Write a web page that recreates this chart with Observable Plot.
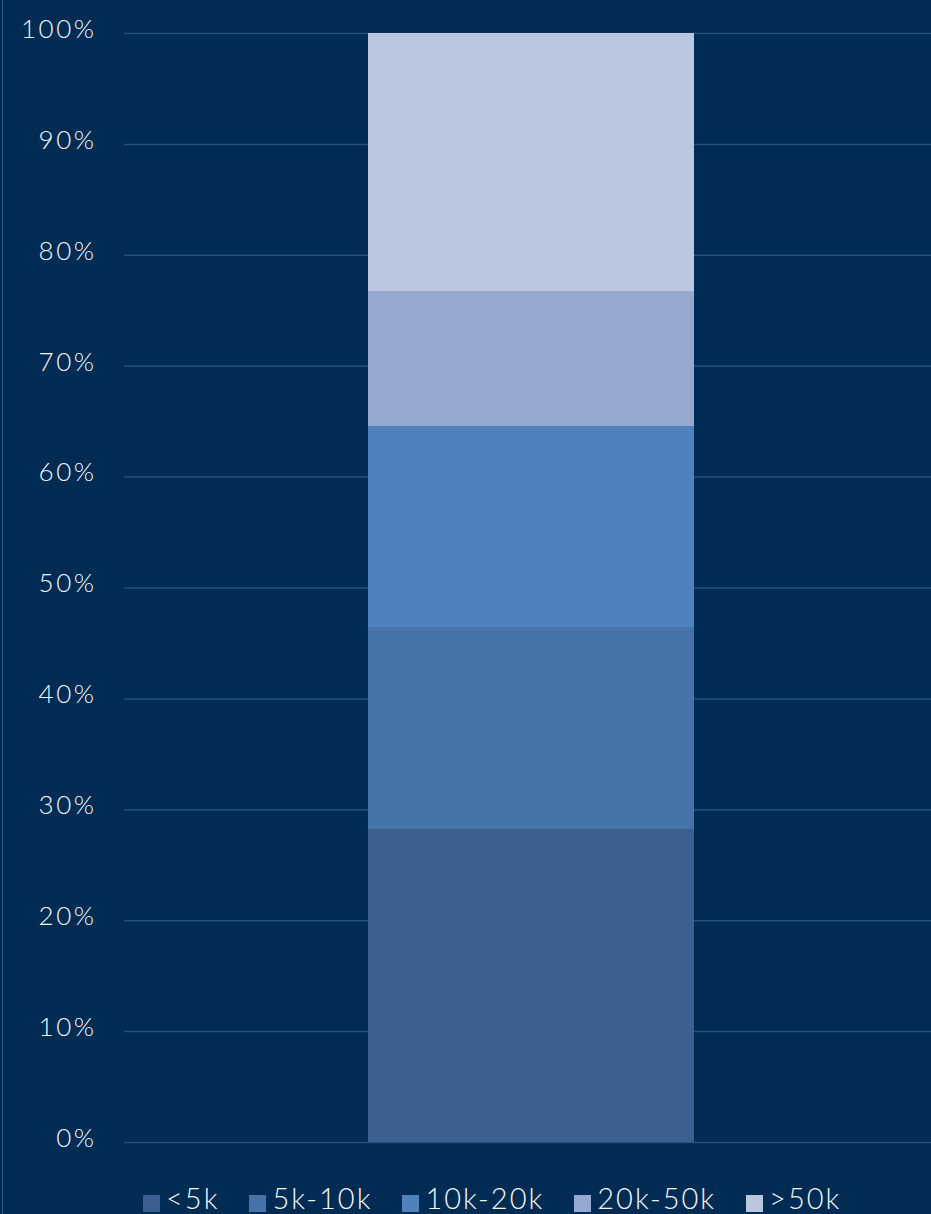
<!DOCTYPE html>
<html>
<head>
<meta charset="utf-8">
<script src="https://cdn.jsdelivr.net/npm/d3@7"></script>
<script src="https://cdn.jsdelivr.net/npm/@observablehq/plot@0.6"></script>
<style>
  html, body { margin: 0; padding: 0; background: #002b52; }
  body { width: 931px; height: 1214px; position: relative; overflow: hidden; font-family: Lato, "Open Sans", sans-serif; }
  #edge { position: absolute; left: 2px; top: 0; width: 1px; height: 1214px; background: #2d5585; }
  #chart { position: absolute; left: 0; top: 0; }
  #chart svg text { letter-spacing: 2.5px; font-weight: 300; }
  #legend { position: absolute; left: 143px; top: 1180px; display: flex; align-items: center; gap: 30px; color: #f4f6fa; font-size: 29px; font-weight: 300; letter-spacing: 2px; }
  .item { display: flex; align-items: center; gap: 6px; }
  .sw { width: 17px; height: 17px; margin-top: 12px; }
</style>
</head>
<body>
<div id="edge"></div>
<div id="chart"></div>
<div id="legend"></div>
<script>
const categories = ["<5k", "5k-10k", "10k-20k", "20k-50k", ">50k"];
const shares = [28.2, 18.2, 18.2, 12.1, 23.3];
const colors = ["#3b5f8f", "#4673a8", "#4f81bd", "#95a9d0", "#bbc7e0"];
const yTicks = [0, 10, 20, 30, 40, 50, 60, 70, 80, 90, 100];
const barLabel = ["All"];

const data = categories.map((c, i) => ({group: barLabel[0], band: c, value: shares[i]}));

const chart = Plot.plot({
  width: 931,
  height: 1160,
  marginLeft: 124,
  marginRight: 0,
  marginTop: 33,
  marginBottom: 18,
  style: {background: "transparent", color: "#f4f6fa", fontFamily: "Lato, 'Open Sans', sans-serif", fontSize: "26px"},
  x: {domain: barLabel, axis: null, paddingInner: 0, paddingOuter: 0.734, align: 0.508},
  y: {domain: [0, 100], ticks: yTicks, tickFormat: d => d + "%", label: null},
  color: {domain: categories, range: colors},
  marks: [
    Plot.gridY(yTicks, {stroke: "#264f7b", strokeOpacity: 1, strokeWidth: 1.5}),
    Plot.axisY(yTicks, {tickSize: 0, tickPadding: 28, tickFormat: d => d + "%", fontSize: 26, fill: "#f4f6fa", dy: -4, label: null}),
    Plot.barY(data, Plot.stackY({x: "group", y: "value", fill: "band", order: categories, shapeRendering: "crispEdges"}))
  ]
});
document.getElementById("chart").appendChild(chart);

const legend = document.getElementById("legend");
categories.forEach((c, i) => {
  const item = document.createElement("div");
  item.className = "item";
  const sw = document.createElement("div");
  sw.className = "sw";
  sw.style.background = colors[i];
  const t = document.createElement("span");
  t.textContent = c;
  item.appendChild(sw);
  item.appendChild(t);
  legend.appendChild(item);
});
</script>
</body>
</html>
